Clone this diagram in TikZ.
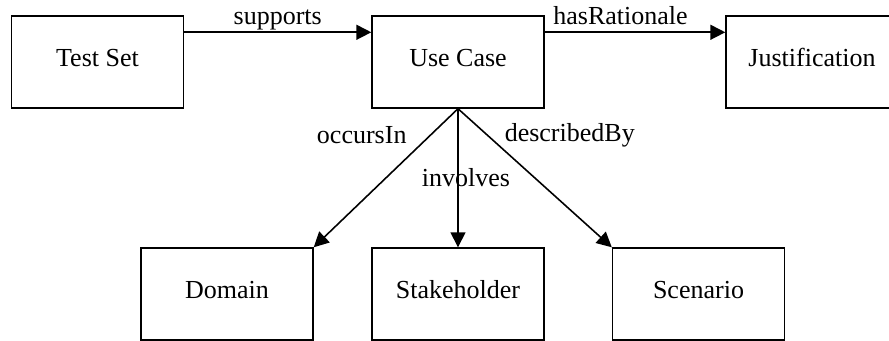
\documentclass[tikz,border=0pt]{standalone}
\usepackage{fontspec}
\setmainfont{Liberation Serif}
\usetikzlibrary{arrows.meta, positioning}

\begin{document}
\begin{tikzpicture}[
  concept/.style={draw, line width=0.8pt, minimum width=3.44cm, minimum height=1.84cm, text height=10pt, text depth=4.6pt, font=\fontsize{14.8}{18}\selectfont},
  rel/.style={-{Triangle[length=0.3cm, width=0.3cm]}, line width=0.9pt},
  lbl/.style={font=\fontsize{14.8}{18}\selectfont, inner sep=3pt, text height=1.5ex, text depth=0.25ex},
]
  \useasboundingbox (0,0) rectangle (17.78,6.82);
  \clip (0,0) rectangle (17.78,6.82);

  % Top row
  \node[concept] (testset) at (1.95, 5.58) {Test Set};
  \node[concept] (usecase) at (9.16, 5.58) {Use Case};
  \node[concept] (justif) at (16.24, 5.58) {Justification};

  % Bottom row
  \node[concept] (domain) at (4.54, 0.94) {Domain};
  \node[concept] (stakeh) at (9.16, 0.94) {Stakeholder};
  \node[concept] (scenario) at (13.97, 0.94) {Scenario};

  % Arrows
  \draw[rel] ([yshift=-0.34cm]testset.north east) -- node[lbl, above] (lsup) {supports} ([yshift=-0.34cm]usecase.north west);
  \draw[rel] ([yshift=-0.34cm]usecase.north east) -- node[lbl, above, pos=0.42] (lrat) {hasRationale} ([yshift=-0.34cm]justif.north west);
  \draw[rel] (usecase.south) -- node[lbl, left, pos=0.19, xshift=-0.36cm, yshift=-0.06cm] (locc) {occursIn} (domain.north east);
  \draw[rel] (usecase.south) -- node[lbl, pos=0.5, xshift=0.16cm, yshift=-0.06cm] (linv) {involves} (stakeh.north);
  \draw[rel] (usecase.south) -- node[lbl, right, pos=0.18, xshift=0.26cm, yshift=-0.06cm] (ldes) {describedBy} (scenario.north west);

\end{tikzpicture}
\end{document}
